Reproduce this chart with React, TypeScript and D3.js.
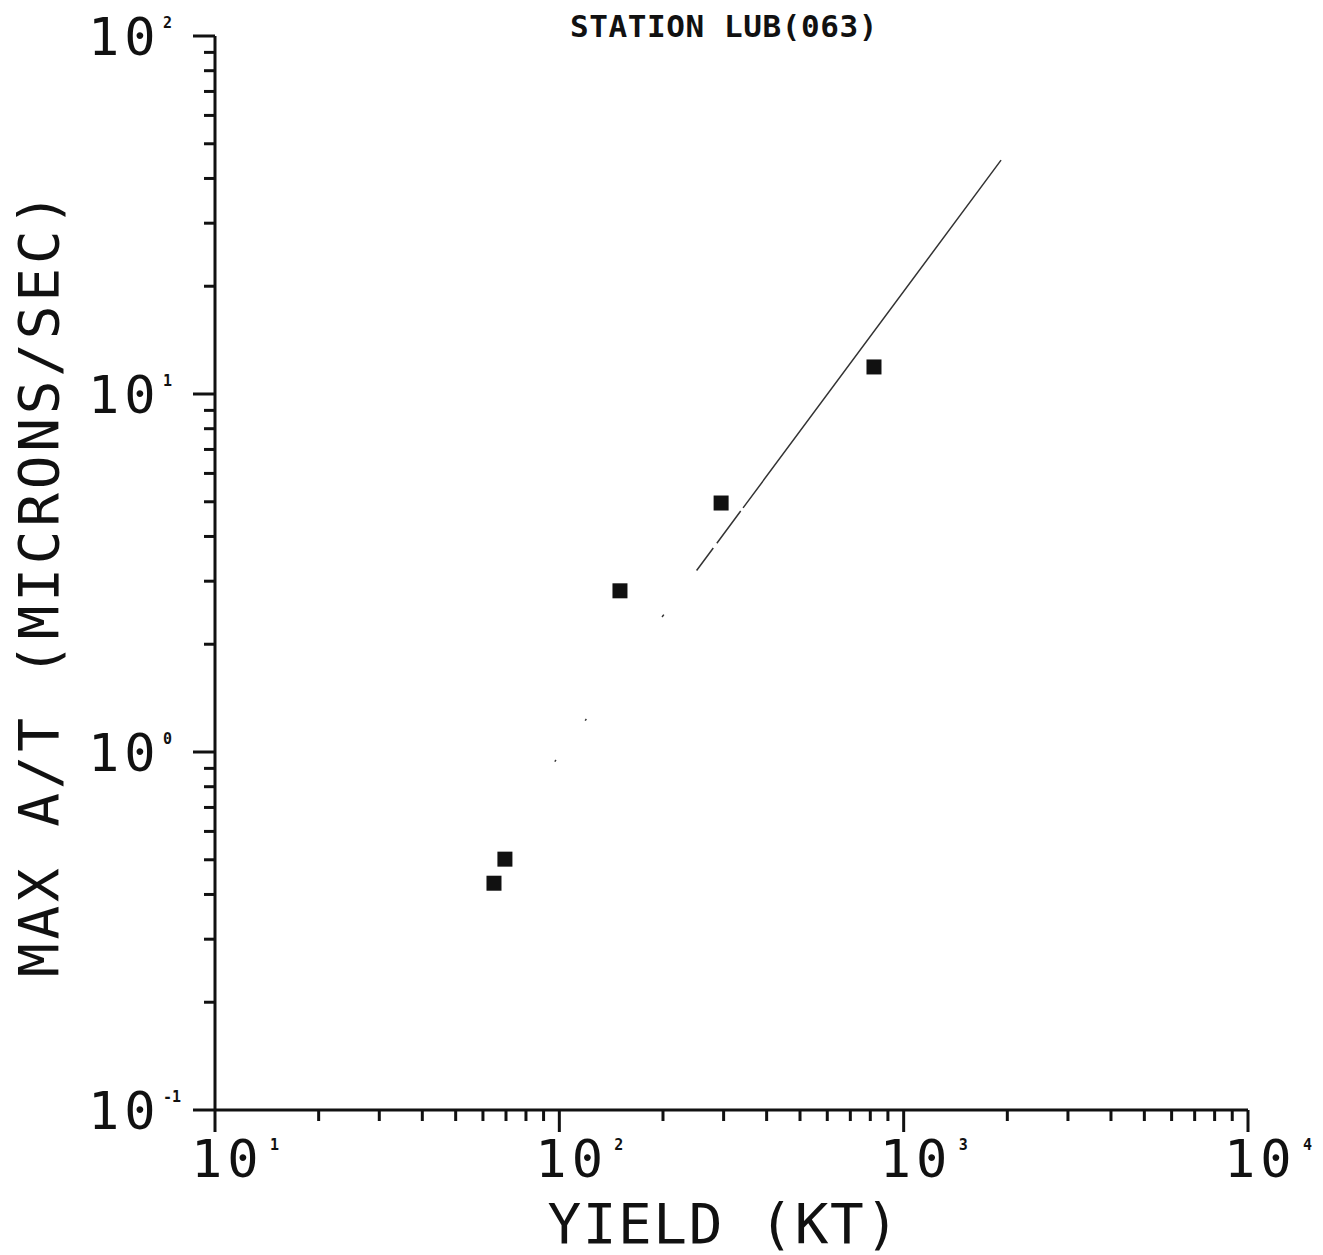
import React from "react";
import * as d3 from "d3";

const title = "STATION LUB(063)";
const xTitle = "YIELD (KT)";
const yTitle = "MAX A/T (MICRONS/SEC)";

const yieldKT = [64.6, 69.5, 150, 295, 820];
const maxAT = [0.43, 0.502, 2.82, 4.96, 11.9];

const fitYield = [97, 1918];
const fitAT = [0.94, 45];

const xTickExps = [1, 2, 3, 4];
const yTickExps = [-1, 0, 1, 2];
const minorMults = [2, 3, 4, 5, 6, 7, 8, 9];

const W = 1323;
const H = 1255;
const FONT = "'DejaVu Sans Mono', monospace";

export default function App() {
  const x = d3.scaleLog().domain([10, 10000]).range([215, 1248]);
  const y = d3.scaleLog().domain([0.1, 100]).range([1110, 36]);
  const x0 = x.range()[0];
  const y0 = y.range()[0];

  const xMinor: number[] = [];
  xTickExps.slice(0, -1).forEach((e) => minorMults.forEach((m) => xMinor.push(m * Math.pow(10, e))));
  const yMinor: number[] = [];
  yTickExps.slice(0, -1).forEach((e) => minorMults.forEach((m) => yMinor.push(m * Math.pow(10, e))));

  const line = d3
    .line<number>()
    .x((_, i) => x(fitYield[i]))
    .y((_, i) => y(fitAT[i]));

  const stroke = "#111";
  const sw = 3;

  return (
    <svg
      width={W}
      height={H}
      style={{ position: "absolute", left: 0, top: 0, background: "#fff" }}
    >
      <rect x={0} y={0} width={W} height={H} fill="#fff" />
      {/* title */}
      <text
        x={724}
        y={37}
        textAnchor="middle"
        fontFamily={FONT}
        fontWeight="bold"
        fontSize={31}
        letterSpacing={0.6}
        fill={stroke}
      >
        {title}
      </text>

      {/* axes */}
      <line x1={x0} y1={y.range()[1]} x2={x0} y2={y0} stroke={stroke} strokeWidth={sw} />
      <line x1={x0} y1={y0} x2={x.range()[1]} y2={y0} stroke={stroke} strokeWidth={sw} />

      {/* x ticks */}
      {xTickExps.map((e) => {
        const px = x(Math.pow(10, e));
        return (
          <g key={"xm" + e}>
            <line x1={px} y1={y0} x2={px} y2={y0 + 22} stroke={stroke} strokeWidth={sw} />
            <text x={px - 24} y={y0 + 67} fontFamily={FONT} fontSize={52} letterSpacing={5} fill={stroke}>
              10
            </text>
            <text x={px + 55} y={y0 + 40} fontFamily={FONT} fontSize={15} fontWeight="bold" fill={stroke}>
              {e}
            </text>
          </g>
        );
      })}
      {xMinor.map((v) => (
        <line key={"xn" + v} x1={x(v)} y1={y0} x2={x(v)} y2={y0 + 11} stroke={stroke} strokeWidth={sw} />
      ))}

      {/* y ticks */}
      {yTickExps.map((e) => {
        const py = y(Math.pow(10, e));
        return (
          <g key={"ym" + e}>
            <line x1={x0 - 22} y1={py} x2={x0} y2={py} stroke={stroke} strokeWidth={sw} />
            <text x={x0 - 127} y={py + 19} fontFamily={FONT} fontSize={52} letterSpacing={5} fill={stroke}>
              10
            </text>
            <text x={x0 - 52} y={py - 8} fontFamily={FONT} fontSize={15} fontWeight="bold" fill={stroke}>
              {e}
            </text>
          </g>
        );
      })}
      {yMinor.map((v) => (
        <line key={"yn" + v} x1={x0 - 11} y1={y(v)} x2={x0} y2={y(v)} stroke={stroke} strokeWidth={sw} />
      ))}

      {/* axis titles */}
      <text
        x={724}
        y={1243}
        textAnchor="middle"
        fontFamily={FONT}
        fontSize={56}
        letterSpacing={1.6}
        fill={stroke}
      >
        {xTitle}
      </text>
      <text
        transform={`translate(58, 583) rotate(-90)`}
        x={0}
        y={0}
        textAnchor="middle"
        fontFamily={FONT}
        fontSize={56}
        letterSpacing={3.8}
        fill={stroke}
      >
        {yTitle}
      </text>

      {/* fit line */}
      <path
        d={line(fitYield) || ""}
        fill="none"
        stroke="#333"
        strokeWidth={1.5}
        strokeDasharray="2 49 2 127 3 55 28 6 40 4 1000"
      />

      {/* points */}
      {yieldKT.map((v, i) => (
        <rect key={"p" + i} x={x(v) - 7.5} y={y(maxAT[i]) - 7.5} width={15} height={15} fill={stroke} />
      ))}
    </svg>
  );
}
